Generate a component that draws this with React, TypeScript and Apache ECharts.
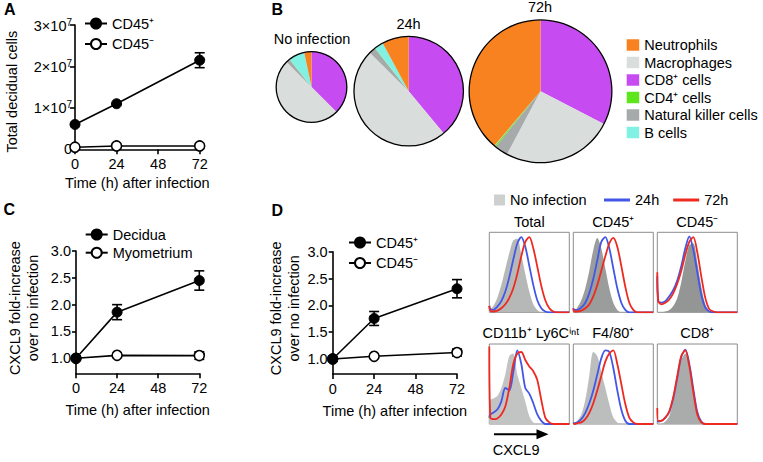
import React, { useEffect, useRef } from 'react';
import * as echarts from 'echarts';

const FONT = '"Liberation Sans", Arial, Helvetica, sans-serif';

// ---------- Panel A / C / D data ----------
const hours = [0, 24, 72];
const timeTicksLabel = 'Time (h) after infection';

const aCd45Pos = [6.0e6, 1.1e7, 2.15e7];
const aCd45PosErr = [0, 0, 1.8e6];
const aCd45Neg = [5e5, 8e5, 8e5];
const aCd45NegErr = [0, 0, 0];
const aYTicks = [0, 1e7, 2e7, 3e7];

const cDecidua = [1.0, 1.86, 2.45];
const cDeciduaErr = [0, 0.14, 0.18];
const cMyometrium = [1.0, 1.055, 1.05];
const cMyometriumErr = [0, 0.02, 0.07];

const dCd45Pos = [1.0, 1.755, 2.31];
const dCd45PosErr = [0, 0.13, 0.17];
const dCd45Neg = [1.0, 1.05, 1.12];
const dCd45NegErr = [0, 0.02, 0.065];

const foldTicks = [1.0, 1.5, 2.0, 2.5, 3.0];

// ---------- Panel B data ----------
const cellTypes = ['CD8⁺ cells', 'Macrophages', 'Natural killer cells', 'CD4⁺ cells', 'B cells', 'Neutrophils'];
const cellLegendOrder = ['Neutrophils', 'Macrophages', 'CD8⁺ cells', 'CD4⁺ cells', 'Natural killer cells', 'B cells'];
const cellColors = ['#c64cf2', '#d9dddc', '#a6aaaa', '#5ee61c', '#80f1e2', '#f7821f'];
const pieNoInfection = [37.5, 50.0, 1.8, 0.1, 7.3, 3.3];
const pie24h = [39.0, 48.4, 2.0, 0.1, 2.6, 7.9];
const pie72h = [32.6, 25.2, 3.0, 0.3, 0.1, 38.8];
const pieTitles = ['No infection', '24h', '72h'];

// ---------- Panel D histograms ----------
const histX = [0, 1, 4, 8, 12, 16, 20, 24, 28, 32, 36, 40, 44, 48, 52, 56, 60, 64, 68, 72, 76, 80];
const histTitles = ['Total', 'CD45⁺', 'CD45⁻', 'CD11b⁺ Ly6Cⁱⁿᵗ', 'F4/80⁺', 'CD8⁺'];
const histNoInfection = [
  [3, 4, 8, 18, 34, 54, 74, 90, 92, 72, 48, 26, 10, 3, 0, 0, 0, 0, 0, 0, 0, 0],
  [2, 2, 6, 15, 30, 52, 78, 93, 80, 55, 30, 12, 3, 0, 0, 0, 0, 0, 0, 0, 0, 0],
  [0, 0, 0, 1, 3, 8, 18, 38, 64, 84, 86, 62, 32, 10, 2, 0, 0, 0, 0, 0, 0, 0],
  [0, 30, 32, 35, 45, 62, 85, 88, 62, 45, 28, 10, 2, 0, 0, 0, 0, 0, 0, 0, 0, 0],
  [0, 0, 4, 12, 30, 60, 90, 85, 65, 45, 25, 8, 2, 0, 0, 0, 0, 0, 0, 0, 0, 0],
  [0, 0, 0, 3, 10, 28, 55, 80, 88, 68, 36, 10, 2, 0, 0, 0, 0, 0, 0, 0, 0, 0],
];
const hist24h = [
  [8, 4, 3, 7, 14, 26, 44, 66, 86, 94, 82, 58, 34, 15, 5, 1, 0, 0, 0, 0, 0, 0],
  [5, 3, 3, 6, 12, 24, 42, 65, 88, 94, 80, 55, 30, 12, 3, 0, 0, 0, 0, 0, 0, 0],
  [45, 14, 12, 14, 20, 28, 40, 58, 80, 95, 78, 50, 22, 6, 1, 0, 0, 0, 0, 0, 0, 0],
  [8, 12, 14, 18, 28, 45, 42, 65, 92, 75, 45, 38, 26, 12, 4, 0, 0, 0, 0, 0, 0, 0],
  [1, 1, 2, 6, 14, 26, 42, 62, 82, 92, 90, 70, 42, 18, 4, 0, 0, 0, 0, 0, 0, 0],
  [4, 3, 4, 8, 15, 32, 58, 84, 93, 75, 44, 15, 3, 0, 0, 0, 0, 0, 0, 0, 0, 0],
];
const hist72h = [
  [8, 2, 1, 2, 5, 10, 18, 30, 48, 70, 88, 94, 80, 57, 33, 15, 5, 1, 0, 0, 0, 0],
  [5, 1, 1, 2, 5, 10, 20, 34, 52, 70, 86, 93, 82, 58, 32, 12, 3, 0, 0, 0, 0, 0],
  [50, 14, 10, 12, 16, 24, 36, 52, 72, 88, 94, 75, 45, 18, 4, 1, 0, 0, 0, 0, 0, 0],
  [97, 8, 6, 7, 12, 22, 45, 75, 88, 90, 80, 72, 66, 55, 30, 8, 2, 0, 0, 0, 0, 0],
  [1, 0, 1, 2, 6, 14, 26, 42, 60, 78, 88, 92, 75, 50, 25, 8, 2, 0, 0, 0, 0, 0],
  [20, 4, 4, 8, 16, 34, 60, 85, 92, 72, 40, 12, 2, 0, 0, 0, 0, 0, 0, 0, 0, 0],
];
const histGrays = ['#b5b8b7', '#9a9d9c', '#939695', '#c2c4c3', '#bcbebd', '#a9acab'];
const BLUE = '#4257e6';
const RED = '#ee2a20';

const txt = { fontFamily: FONT, fontSize: 14.5, color: '#000' };
const AX = { color: '#000', width: 1.6 };

function buildOption() {
  const grids: any[] = [
    { left: 75, top: 25, width: 124.7, height: 124.3 },
    { left: 76, top: 251, width: 123.3, height: 122.3 },
    { left: 332.7, top: 251.7, width: 124.3, height: 122.3 },
  ];
  const histLefts = [489.3, 573.3, 657.3];
  const histTops = [232.3, 344];
  for (let i = 0; i < 6; i++) {
    grids.push({
      left: histLefts[i % 3], top: histTops[Math.floor(i / 3)], width: 80, height: 80,
      show: true, borderColor: '#8c8c8c', borderWidth: 1, backgroundColor: 'transparent',
    });
  }
  grids.forEach((g) => { g.outerBoundsMode = 'none'; g.containLabel = false; });

  const timeAxis = (gi: number, gap: number) => ({
    type: 'value', gridIndex: gi, min: 0, max: 72, interval: 24,
    axisLine: { show: true, onZero: false, lineStyle: AX },
    axisTick: { show: true, length: 5, lineStyle: AX },
    axisLabel: { ...txt, margin: 7 },
    splitLine: { show: false },
    name: timeTicksLabel, nameLocation: 'middle', nameGap: gap, nameTextStyle: { ...txt },
    nameMoveOverlap: false,
  });
  const foldAxis = (gi: number) => ({
    type: 'value', gridIndex: gi, min: 0.72, max: 3,
    axisLine: { show: true, onZero: false, lineStyle: AX },
    axisTick: { show: true, length: 4, lineStyle: AX, customValues: foldTicks },
    axisLabel: { ...txt, margin: 5, customValues: foldTicks, formatter: (v: number) => v.toFixed(1) },
    splitLine: { show: false },
  });

  const xAxis: any[] = [timeAxis(0, 26), timeAxis(1, 29), timeAxis(2, 29)];
  const yAxis: any[] = [
    {
      type: 'value', gridIndex: 0, min: aYTicks[0], max: aYTicks[3], interval: 1e7,
      axisLine: { show: true, onZero: false, lineStyle: AX },
      axisTick: { show: true, length: 5, lineStyle: AX },
      axisLabel: {
        ...txt, margin: 3,
        formatter: (v: number) => (v === 0 ? '{n|0}' : `{n|${v / 1e7}×10}{s|7}`),
        rich: {
          n: { fontFamily: FONT, fontSize: 14.5, color: '#000', verticalAlign: 'bottom' },
          s: { fontFamily: FONT, fontSize: 10, color: '#000', verticalAlign: 'top', padding: [0, 0, 6, 0] },
        },
      },
      splitLine: { show: false },
    },
    foldAxis(1),
    foldAxis(2),
  ];
  for (let i = 0; i < 6; i++) {
    xAxis.push({ type: 'value', gridIndex: 3 + i, min: 0, max: 80, show: false });
    yAxis.push({ type: 'value', gridIndex: 3 + i, min: 0, max: 100, show: false });
  }

  const lineSeries = (name: string, idx: number, vals: number[], filled: boolean) => ({
    type: 'line', name, xAxisIndex: idx, yAxisIndex: idx,
    data: hours.map((h, i) => [h, vals[i]]),
    symbol: 'circle', symbolSize: 10, clip: false, z: 3,
    lineStyle: { color: '#000', width: 1.6 },
    itemStyle: filled ? { color: '#000', borderColor: '#000', borderWidth: 1 } : { color: '#fff', borderColor: '#000', borderWidth: 1.6 },
    emphasis: { disabled: true },
  });
  const errSeries = (name: string, idx: number, vals: number[], errs: number[]) => ({
    type: 'custom', name, xAxisIndex: idx, yAxisIndex: idx, z: 1, silent: true,
    data: hours.map((h, i) => [h, vals[i] - errs[i], vals[i] + errs[i]]),
    encode: { x: 0, y: [1, 2] },
    renderItem: (_p: any, api: any) => {
      const x = api.value(0);
      const lo = api.coord([x, api.value(1)]);
      const hi = api.coord([x, api.value(2)]);
      const w = 5;
      const st = { stroke: '#000', lineWidth: 1.6 };
      return {
        type: 'group',
        children: [
          { type: 'line', shape: { x1: lo[0], y1: lo[1], x2: hi[0], y2: hi[1] }, style: st },
          { type: 'line', shape: { x1: lo[0] - w, y1: lo[1], x2: lo[0] + w, y2: lo[1] }, style: st },
          { type: 'line', shape: { x1: hi[0] - w, y1: hi[1], x2: hi[0] + w, y2: hi[1] }, style: st },
        ],
      };
    },
  });

  const series: any[] = [
    errSeries('errA1', 0, aCd45Pos, aCd45PosErr),
    errSeries('errA2', 0, aCd45Neg, aCd45NegErr),
    lineSeries('CD45⁻', 0, aCd45Neg, false),
    lineSeries('CD45⁺', 0, aCd45Pos, true),
    errSeries('errC1', 1, cDecidua, cDeciduaErr),
    errSeries('errC2', 1, cMyometrium, cMyometriumErr),
    lineSeries('Myometrium', 1, cMyometrium, false),
    lineSeries('Decidua', 1, cDecidua, true),
    errSeries('errD1', 2, dCd45Pos, dCd45PosErr),
    errSeries('errD2', 2, dCd45Neg, dCd45NegErr),
    lineSeries('CD45⁻', 2, dCd45Neg, false),
    lineSeries('CD45⁺', 2, dCd45Pos, true),
  ];

  // pies
  const pieCenters = [[311.5, 87], [408.7, 91.2], [540.5, 91.3]];
  const pieRadii = [35.3, 54.7, 71.3];
  const pieVals = [pieNoInfection, pie24h, pie72h];
  pieVals.forEach((vals, k) => {
    series.push({
      type: 'pie', name: 'pie' + k, center: pieCenters[k], radius: [0, pieRadii[k]],
      startAngle: 90, clockwise: true, silent: true, avoidLabelOverlap: false,
      label: { show: false }, labelLine: { show: false }, minAngle: 0,
      itemStyle: { borderWidth: 0 },
      emphasis: { disabled: true },
      data: cellTypes.map((n, i) => ({ name: n, value: vals[i], itemStyle: { color: cellColors[i] } })),
    });
    series.push({
      type: 'pie', name: 'outline' + k, center: pieCenters[k], radius: [pieRadii[k] - 0.6, pieRadii[k] + 0.7],
      silent: true, label: { show: false }, labelLine: { show: false }, emphasis: { disabled: true },
      itemStyle: { color: '#000', borderWidth: 0 },
      data: [{ name: 'outline', value: 1 }],
    });
  });

  // histograms
  for (let i = 0; i < 6; i++) {
    const ax = 3 + i;
    series.push({
      type: 'line', name: 'No infection', xAxisIndex: ax, yAxisIndex: ax, symbol: 'none', smooth: 0.3,
      color: histGrays[i],
      data: histX.map((x, j) => [x, histNoInfection[i][j]]),
      lineStyle: { width: 0, color: histGrays[i] },
      areaStyle: { color: histGrays[i], opacity: 1 },
      emphasis: { disabled: true }, z: 2,
    });
    series.push({
      type: 'line', name: '24h', xAxisIndex: ax, yAxisIndex: ax, symbol: 'none', smooth: 0.3,
      color: BLUE,
      data: histX.map((x, j) => [x, hist24h[i][j]]),
      lineStyle: { width: 1.8, color: BLUE },
      emphasis: { disabled: true }, z: 3,
    });
    series.push({
      type: 'line', name: '72h', xAxisIndex: ax, yAxisIndex: ax, symbol: 'none', smooth: 0.3,
      color: RED,
      data: histX.map((x, j) => [x, hist72h[i][j]]),
      lineStyle: { width: 1.8, color: RED },
      emphasis: { disabled: true }, z: 4,
    });
  }

  const lgBase = { orient: 'vertical', padding: 0, selectedMode: false, textStyle: { ...txt }, itemWidth: 22, itemHeight: 12.5, itemGap: 5.5 };
  const legend: any[] = [
    { ...lgBase, left: 84, top: 16, data: ['CD45⁺', 'CD45⁻'] },
    { ...lgBase, left: 84.7, top: 227, itemGap: 3.2, data: ['Decidua', 'Myometrium'] },
    { ...lgBase, left: 348, top: 235, data: ['CD45⁺', 'CD45⁻'] },
    {
      orient: 'vertical', padding: 0, selectedMode: false, textStyle: { ...txt },
      left: 626.7, top: 37.5, itemWidth: 12.5, itemHeight: 11.5, itemGap: 2.5, icon: 'rect',
      data: cellLegendOrder,
    },
    {
      orient: 'horizontal', padding: 0, selectedMode: false, textStyle: { ...txt },
      left: 494, top: 192.5, itemWidth: 11, itemHeight: 11, icon: 'rect',
      data: [{ name: 'No infection', itemStyle: { color: '#cdd0cf' } }],
    },
    {
      orient: 'horizontal', padding: 0, selectedMode: false, textStyle: { ...txt },
      left: 604, top: 192.5, itemWidth: 26, itemHeight: 3, itemGap: 14, icon: 'rect',
      data: ['24h', '72h'],
    },
  ];

  const T = (text: string, x: number, y: number, extra: any = {}, elExtra: any = {}) => ({
    type: 'text', x, y, silent: true, ...elExtra,
    style: { text, fontFamily: FONT, fontSize: 14.5, fill: '#000', align: 'center', verticalAlign: 'middle', ...extra },
  });
  const graphics: any[] = [
    T('A', 4, 9.5, { align: 'left', fontSize: 16, fontWeight: 'bold' }),
    T('B', 271.5, 9.5, { align: 'left', fontSize: 16, fontWeight: 'bold' }),
    T('C', 3.5, 209.5, { align: 'left', fontSize: 16, fontWeight: 'bold' }),
    T('D', 271.5, 210.5, { align: 'left', fontSize: 16, fontWeight: 'bold' }),
    T(pieTitles[0], 312, 38.5),
    T(pieTitles[1], 408.5, 23.5),
    T(pieTitles[2], 540, 7),
    T('Total decidual cells', 11.7, 91.7, {}, { rotation: Math.PI / 2 }),
    T('CXCL9 fold-increase\nover no infection', 24, 308, { lineHeight: 18 }, { rotation: Math.PI / 2 }),
    T('CXCL9 fold-increase\nover no infection', 285, 308.3, { lineHeight: 18 }, { rotation: Math.PI / 2 }),
    T(histTitles[0], 529.3, 221.5),
    T(histTitles[1], 613.3, 221.5),
    T(histTitles[2], 697.3, 221.5),
    T(histTitles[3], 531, 333),
    T(histTitles[4], 613.3, 333),
    T(histTitles[5], 697.3, 333),
    { type: 'line', silent: true, shape: { x1: 494, y1: 434.3, x2: 538, y2: 434.3 }, style: { stroke: '#000', lineWidth: 2 } },
    { type: 'polygon', silent: true, shape: { points: [[536.5, 429.3], [548.5, 434.3], [536.5, 439.3]] }, style: { fill: '#000' } },
    T('CXCL9', 492.7, 450, { align: 'left' }),
  ];

  return {
    animation: false,
    backgroundColor: '#fff',
    textStyle: { fontFamily: FONT },
    grid: grids,
    xAxis,
    yAxis,
    legend,
    series,
    graphic: { elements: graphics },
  };
}

export default function App() {
  const ref = useRef<HTMLDivElement>(null);
  useEffect(() => {
    const chart = echarts.init(ref.current as HTMLDivElement, undefined, { renderer: 'svg' });
    chart.setOption(buildOption() as any);
    return () => chart.dispose();
  }, []);
  return <div ref={ref} style={{ position: 'fixed', left: 0, top: 0, width: 763, height: 462, background: '#fff' }} />;
}
